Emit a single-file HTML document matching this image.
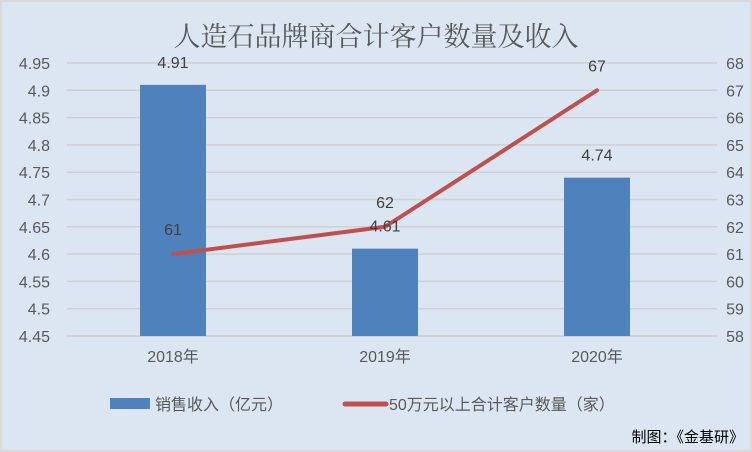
<!DOCTYPE html>
<html><head><meta charset="utf-8"><style>
body{margin:0;background:#fff}
#c{width:752px;height:452px;position:relative;background:#dce6f2;font-family:"Liberation Sans","Noto Sans CJK SC",sans-serif;box-sizing:border-box;border:2px solid #d9d9d9}
svg text{font-family:"Liberation Sans","Noto Sans CJK SC",sans-serif}
</style></head><body>
<div id="c">
<svg id="s" width="752" height="452" style="position:absolute;left:-2px;top:-2px">
<text x="376" y="46" text-anchor="middle" font-size="27" fill="#595959" style="font-family:'Liberation Serif','Noto Serif CJK SC',serif">人造石品牌商合计客户数量及收入</text>
<g id="grid"></g><g id="bars"></g><g id="line"></g><g id="labels"></g>
<rect x="110" y="398" width="40" height="11" fill="#4f81bd"/>
<text x="155" y="410" font-size="16" fill="#595959">销售收入（亿元）</text>
<line x1="345" y1="404" x2="386" y2="404" stroke="#c0504d" stroke-width="5" stroke-linecap="round"/>
<text x="389" y="410" font-size="16" fill="#595959">50万元以上合计客户数量（家）</text>
<text x="744" y="442" text-anchor="end" font-size="15" fill="#000">制图：《金基研》</text>
</svg>
</div>
<script>
const categories=["2018年","2019年","2020年"];
const revenue=[4.91,4.61,4.74];
const customers=[61,62,67];
const leftTicks=["4.45","4.5","4.55","4.6","4.65","4.7","4.75","4.8","4.85","4.9","4.95"];
const rightTicks=["58","59","60","61","62","63","64","65","66","67","68"];
const NS="http://www.w3.org/2000/svg";
const yTop=63,yBot=336,x0=67,x1=717;
const yL=v=>yBot-(v-4.45)/0.5*(yBot-yTop);
const yR=v=>yBot-(v-58)/10*(yBot-yTop);
const band=212;
const xC=i=>x0+band*(i+0.5);
function mk(t,a,p){const e=document.createElementNS(NS,t);for(const k in a)e.setAttribute(k,a[k]);p.appendChild(e);return e;}
const g=document.getElementById('grid');
leftTicks.forEach((t,i)=>{const v=parseFloat(t),y=yL(v);
const l=mk('line',{x1:x0,x2:x1,y1:y,y2:y,stroke:'#d0d0d0','stroke-width':1.5},g);


const tx=mk('text',{x:50,y:y+6,'text-anchor':'end','font-size':16,fill:'#595959'},g);tx.textContent=t;

});
rightTicks.forEach(t=>{const y=yR(parseFloat(t));
const tx=mk('text',{x:735,y:y+6,'text-anchor':'middle','font-size':16,fill:'#595959'},g);tx.textContent=t;

});
const b=document.getElementById('bars'),lb=document.getElementById('labels');
categories.forEach((c,i)=>{const y=yL(revenue[i]);
const r=mk('rect',{x:xC(i)-33,y:y,width:66,height:yBot-y,fill:'#4f81bd'},b);


const t=mk('text',{x:xC(i),y:y-17,'text-anchor':'middle','font-size':16,fill:'#404040'},lb);t.textContent=revenue[i].toFixed(2);


const ct=mk('text',{x:xC(i),y:362,'text-anchor':'middle','font-size':16,fill:'#595959'},lb);ct.textContent=c;


const lt=mk('text',{x:xC(i),y:yR(customers[i])-19,'text-anchor':'middle','font-size':16,fill:'#404040'},lb);lt.textContent=customers[i];

});
const ax=mk('line',{x1:x0,x2:x1,y1:yBot,y2:yBot,stroke:'#d0d0d0','stroke-width':1.5},g);


const pl=mk('polyline',{points:customers.map((v,i)=>xC(i)+','+yR(v)).join(' '),fill:'none',stroke:'#c0504d','stroke-width':4,'stroke-linecap':'round','stroke-linejoin':'round'},document.getElementById('line'));


</script>
</body></html>
